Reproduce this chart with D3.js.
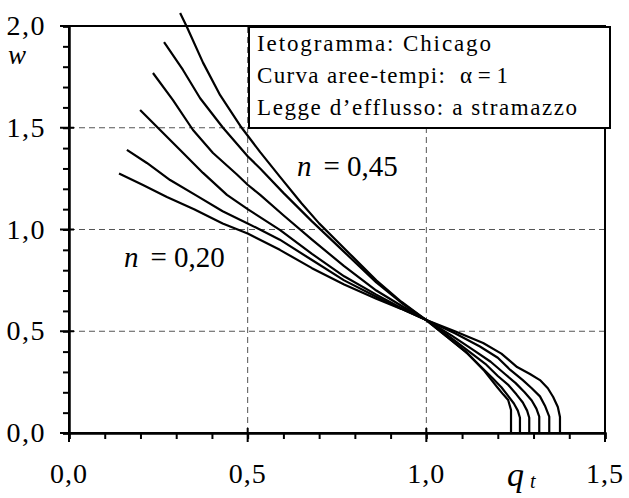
<!DOCTYPE html>
<html><head><meta charset="utf-8">
<script src="https://cdn.jsdelivr.net/npm/d3@7"></script>
<style>
html,body{margin:0;padding:0;background:#fff;}
</style></head>
<body>
<svg id="chart" width="629" height="498"></svg>
<script>
// ---- data ----
const xTicks = [0.0, 0.5, 1.0, 1.5];
const yTicks = [0.0, 0.5, 1.0, 1.5, 2.0];
const xTickLabels = ["0,0", "0,5", "1,0", "1,5"];
const yTickLabels = ["0,0", "0,5", "1,0", "1,5", "2,0"];
const nValues = [0.20, 0.25, 0.30, 0.35, 0.40, 0.45];
const curve020 = [[0.14,1.275],[0.207,1.219],[0.274,1.16],[0.35,1.10],[0.43,1.03],[0.50,0.98],[0.59,0.90],[0.68,0.81],[0.77,0.73],[0.86,0.66],[0.93,0.61],[1.0,0.555],[1.08,0.50],[1.159,0.442],[1.21,0.39],[1.254,0.324],[1.29,0.29],[1.318,0.26],[1.34,0.22],[1.355,0.177],[1.368,0.128],[1.374,0.079],[1.374,0.0]];
const curve025 = [[0.162,1.391],[0.218,1.327],[0.283,1.243],[0.358,1.165],[0.43,1.09],[0.50,1.03],[0.59,0.95],[0.68,0.85],[0.77,0.75],[0.86,0.67],[0.93,0.61],[1.0,0.555],[1.08,0.49],[1.15,0.425],[1.20,0.37],[1.235,0.31],[1.27,0.26],[1.295,0.22],[1.318,0.18],[1.333,0.13],[1.344,0.08],[1.344,0.0]];
const curve030 = [[0.199,1.587],[0.255,1.489],[0.311,1.391],[0.375,1.278],[0.442,1.17],[0.50,1.10],[0.59,0.998],[0.68,0.88],[0.77,0.77],[0.86,0.68],[0.93,0.615],[1.0,0.555],[1.07,0.48],[1.13,0.41],[1.18,0.35],[1.22,0.29],[1.25,0.245],[1.275,0.20],[1.295,0.16],[1.308,0.12],[1.316,0.08],[1.316,0.0]];
const curve035 = [[0.235,1.769],[0.291,1.636],[0.347,1.489],[0.403,1.376],[0.470,1.27],[0.50,1.22],[0.535,1.17],[0.60,1.07],[0.68,0.95],[0.77,0.82],[0.86,0.70],[0.93,0.625],[1.0,0.555],[1.06,0.48],[1.12,0.40],[1.165,0.34],[1.20,0.28],[1.23,0.235],[1.252,0.19],[1.27,0.15],[1.282,0.11],[1.288,0.075],[1.288,0.0]];
const curve040 = [[0.266,1.921],[0.319,1.784],[0.367,1.645],[0.431,1.50],[0.50,1.36],[0.535,1.30],[0.60,1.18],[0.68,1.04],[0.77,0.89],[0.86,0.74],[0.93,0.64],[1.0,0.555],[1.06,0.47],[1.11,0.40],[1.15,0.33],[1.185,0.27],[1.21,0.225],[1.23,0.18],[1.245,0.145],[1.256,0.11],[1.262,0.075],[1.262,0.0]];
const curve045 = [[0.311,2.064],[0.33,1.995],[0.375,1.82],[0.423,1.66],[0.479,1.51],[0.535,1.38],[0.59,1.26],[0.65,1.13],[0.70,1.03],[0.786,0.88],[0.86,0.75],[0.93,0.645],[1.0,0.555],[1.06,0.47],[1.114,0.393],[1.16,0.31],[1.198,0.226],[1.215,0.19],[1.229,0.162],[1.237,0.113],[1.237,0.0]];
const curves = [curve020, curve025, curve030, curve035, curve040, curve045];
const legendLines = ["Ietogramma: Chicago", "Curva aree-tempi: ", "Legge d\u2019efflusso: a stramazzo"];

// ---- layout ----
const FONT = "'Liberation Serif', 'Times New Roman', serif";
const svg = d3.select("#chart").attr("font-family", FONT);
const x = d3.scaleLinear().domain([0, 1.5]).range([69, 605]);
const y = d3.scaleLinear().domain([0, 2.0]).range([433, 26]);

// grid
const g = svg.append("g");
g.selectAll("line.gx").data([0.5, 1.0]).enter().append("line")
  .attr("x1", d => x(d)).attr("x2", d => x(d)).attr("y1", y(0)).attr("y2", y(2))
  .attr("stroke", "#555").attr("stroke-width", 1).attr("stroke-dasharray", "6,4");
g.selectAll("line.gy").data([0.5, 1.0, 1.5]).enter().append("line")
  .attr("x1", x(0)).attr("x2", x(1.5)).attr("y1", d => y(d)).attr("y2", d => y(d))
  .attr("stroke", "#555").attr("stroke-width", 1).attr("stroke-dasharray", "6,4");

// frame
svg.append("rect").attr("x", x(0)).attr("y", y(2)).attr("width", x(1.5) - x(0)).attr("height", y(0) - y(2))
  .attr("fill", "none").attr("stroke", "#000").attr("stroke-width", 2);

// axes (minor ticks)
const xAxis = d3.axisBottom(x).tickValues(d3.range(0, 16).map(i => i / 10)).tickSize(6).tickFormat("");
const yAxis = d3.axisLeft(y).tickValues(d3.range(0, 21).map(i => i / 10)).tickSize(6).tickFormat("");
const gx = svg.append("g").attr("transform", `translate(0,${y(0)})`).call(xAxis);
const gy = svg.append("g").attr("transform", `translate(${x(0)},0)`).call(yAxis);
[gx, gy].forEach(a => {
  a.select(".domain").attr("stroke", "#000").attr("stroke-width", 2.5);
  a.selectAll(".tick line").attr("stroke", "#000").attr("stroke-width", 2);
});
// major ticks crossing
svg.selectAll("line.mx").data(xTicks).enter().append("line")
  .attr("x1", d => x(d)).attr("x2", d => x(d)).attr("y1", y(0) - 5).attr("y2", y(0) + 9)
  .attr("stroke", "#000").attr("stroke-width", 2);
svg.selectAll("line.my").data(yTicks).enter().append("line")
  .attr("x1", x(0) - 9).attr("x2", x(0) + 5).attr("y1", d => y(d)).attr("y2", d => y(d))
  .attr("stroke", "#000").attr("stroke-width", 2);

// tick labels
svg.selectAll("text.xl").data(xTicks).enter().append("text")
  .attr("font-family", FONT)
  .attr("x", d => x(d)).attr("y", 483).attr("text-anchor", "middle")
  .attr("font-size", 28).attr("letter-spacing", 1).text((d, i) => xTickLabels[i]);
svg.selectAll("text.yl").data(yTicks).enter().append("text")
  .attr("font-family", FONT)
  .attr("x", 46).attr("y", d => y(d) + 9).attr("text-anchor", "end")
  .attr("font-size", 28).attr("letter-spacing", 1.5).text((d, i) => yTickLabels[i]);

// axis titles
svg.append("text").attr("font-family", FONT).attr("x", 8).attr("y", 64)
  .attr("font-size", 27).attr("font-style", "italic").text("w");
const qt = svg.append("text").attr("font-family", FONT).attr("x", 507).attr("y", 486)
  .attr("font-size", 34).attr("font-style", "italic");
qt.append("tspan").text("q");
qt.append("tspan").attr("dx", 6).attr("dy", 2).attr("font-size", 20).text("t");

// curves
const line = d3.line().x(d => x(d[0])).y(d => y(d[1]));
svg.selectAll("path.c").data(curves).enter().append("path")
  .attr("d", line).attr("fill", "none").attr("stroke", "#000").attr("stroke-width", 2.2)
  .attr("stroke-linejoin", "round");

// n labels
function nLabel(xp, yp, val) {
  const t = svg.append("text").attr("font-family", FONT).attr("x", xp).attr("y", yp).attr("font-size", 29);
  t.append("tspan").attr("font-style", "italic").text("n");
  t.append("tspan").attr("dx", 12).text("= " + val);
}
nLabel(124, 267, "0,20");
nLabel(297, 176, "0,45");

// legend
svg.append("rect").attr("x", 249).attr("y", 27).attr("width", 361).attr("height", 101)
  .attr("fill", "#fff").attr("stroke", "#000").attr("stroke-width", 2);
const lg = svg.append("g").attr("font-family", FONT).attr("font-size", 23);
lg.append("text").attr("x", 257).attr("y", 51)
  .attr("textLength", 234).attr("lengthAdjust", "spacing").text(legendLines[0]);
const l2 = lg.append("text").attr("x", 257).attr("y", 83);
l2.append("tspan").attr("textLength", 195).attr("lengthAdjust", "spacing").text(legendLines[1]);
l2.append("tspan").attr("x", 460).text("\u03b1 = 1");
lg.append("text").attr("x", 257).attr("y", 115)
  .attr("textLength", 320).attr("lengthAdjust", "spacing").text(legendLines[2]);
</script>
</body></html>
